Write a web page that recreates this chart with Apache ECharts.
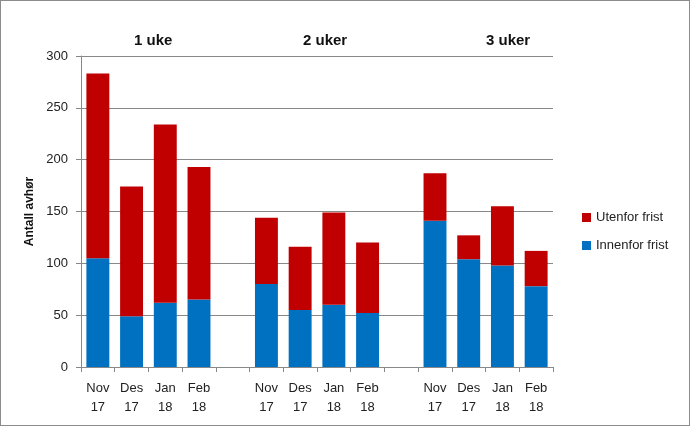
<!DOCTYPE html>
<html><head><meta charset="utf-8">
<script src="https://cdn.jsdelivr.net/npm/echarts@6/dist/echarts.min.js"></script>
<style>
html,body{margin:0;padding:0;background:#fff;}
#c{width:690px;height:426px;box-sizing:border-box;border:1px solid #8c8c8c;}
</style></head><body>
<div id="c"></div>
<script>
const categories = ['Nov\n17','Des\n17','Jan\n18','Feb\n18','', 'Nov\n17','Des\n17','Jan\n18','Feb\n18','', 'Nov\n17','Des\n17','Jan\n18','Feb\n18'];
const innenfor = [105, 49, 62, 65, null, 80, 55, 60, 52, null, 141, 104, 98, 78];
const utenfor  = [178, 125, 172, 128, null, 64, 61, 89, 68, null, 46, 23, 57, 34];
const groupLabels = ['1 uke', '2 uker', '3 uker'];
const yTicks = [0, 50, 100, 150, 200, 250, 300];

const font = 'Liberation Sans, Arial, sans-serif';
const chart = echarts.init(document.getElementById('c'), null, {renderer:'canvas'});
chart.setOption({
  animation:false,
  textStyle:{fontFamily:font},
  grid:{left:80, right:136, top:55, bottom:58, containLabel:false},
  legend:{
    orient:'vertical', left:576, top:205, itemWidth:9, itemHeight:9, itemGap:15,
    icon:'rect',
    textStyle:{fontSize:13, color:'#222', fontFamily:font},
    data:['Utenfor frist','Innenfor frist']
  },
  xAxis:{
    type:'category', data:categories,
    axisLine:{lineStyle:{color:'#888'}},
    axisTick:{show:true, length:5, alignWithLabel:false, interval:0, lineStyle:{color:'#888'}},
    axisLabel:{interval:0, color:'#222', fontSize:13, lineHeight:19, margin:12, fontFamily:font}
  },
  yAxis:{
    type:'value', min:yTicks[0], max:yTicks[yTicks.length-1], interval:50,
    name:'Antall avhør', nameLocation:'middle', nameGap:37,
    nameTextStyle:{fontWeight:'bold', fontSize:12, color:'#111', fontFamily:font},
    axisLine:{show:true, lineStyle:{color:'#888'}},
    axisTick:{show:true, length:5, lineStyle:{color:'#888'}},
    axisLabel:{color:'#222', fontSize:13, margin:13, fontFamily:font},
    splitLine:{lineStyle:{color:'#888', width:1}}
  },
  series:[
    {name:'Innenfor frist', type:'bar', stack:'a', data:innenfor, barCategoryGap:'32%', itemStyle:{color:'#0070C0'}},
    {name:'Utenfor frist', type:'bar', stack:'a', data:utenfor, barCategoryGap:'32%', itemStyle:{color:'#C00000'}}
  ],
  graphic:[
    {type:'text', left:133, top:32, style:{text:groupLabels[0], font:'bold 15px '+font, fill:'#111'}},
    {type:'text', left:302, top:32, style:{text:groupLabels[1], font:'bold 15px '+font, fill:'#111'}},
    {type:'text', left:485, top:32, style:{text:groupLabels[2], font:'bold 15px '+font, fill:'#111'}}
  ]
});
</script>
</body></html>
